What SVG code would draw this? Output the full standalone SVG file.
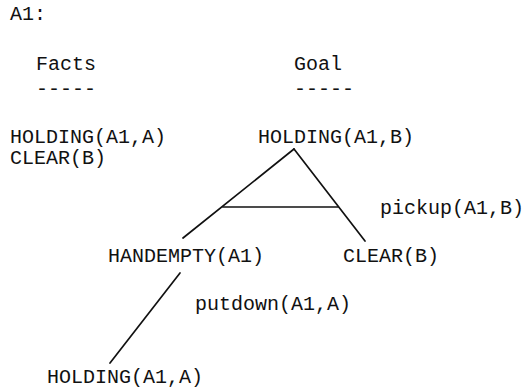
<svg xmlns="http://www.w3.org/2000/svg" width="526" height="389" viewBox="0 0 526 389">
<style>
text{font-family:"Liberation Mono","Courier New",monospace;font-size:20px;fill:#111}
.c line{stroke:#111;stroke-width:1.7;stroke-linecap:round}
</style>
<rect width="526" height="389" fill="#fff"/>
<g id="header">
<text x="10" y="20">A1:</text>
<text x="36" y="70">Facts</text>
<text x="36" y="95">-----</text>
<text x="294" y="70">Goal</text>
<text x="294" y="95">-----</text>
</g>
<g id="facts">
<text x="10" y="143">HOLDING(A1,A)</text>
<text x="10" y="164">CLEAR(B)</text>
</g>
<g id="goal"><text x="258" y="143">HOLDING(A1,B)</text></g>
<g id="pickup"><text x="380" y="214">pickup(A1,B)</text></g>
<g id="handempty"><text x="108" y="262">HANDEMPTY(A1)</text></g>
<g id="clear"><text x="343" y="262">CLEAR(B)</text></g>
<g id="putdown"><text x="195" y="310">putdown(A1,A)</text></g>
<g id="holding2"><text x="47" y="383">HOLDING(A1,A)</text></g>
<g class="c" id="connectors">
<line x1="294" y1="149" x2="183" y2="238"/>
<line x1="294" y1="149" x2="365" y2="241"/>
<line x1="223" y1="207" x2="338" y2="207"/>
<line x1="180" y1="273" x2="110" y2="363"/>
</g>
</svg>
